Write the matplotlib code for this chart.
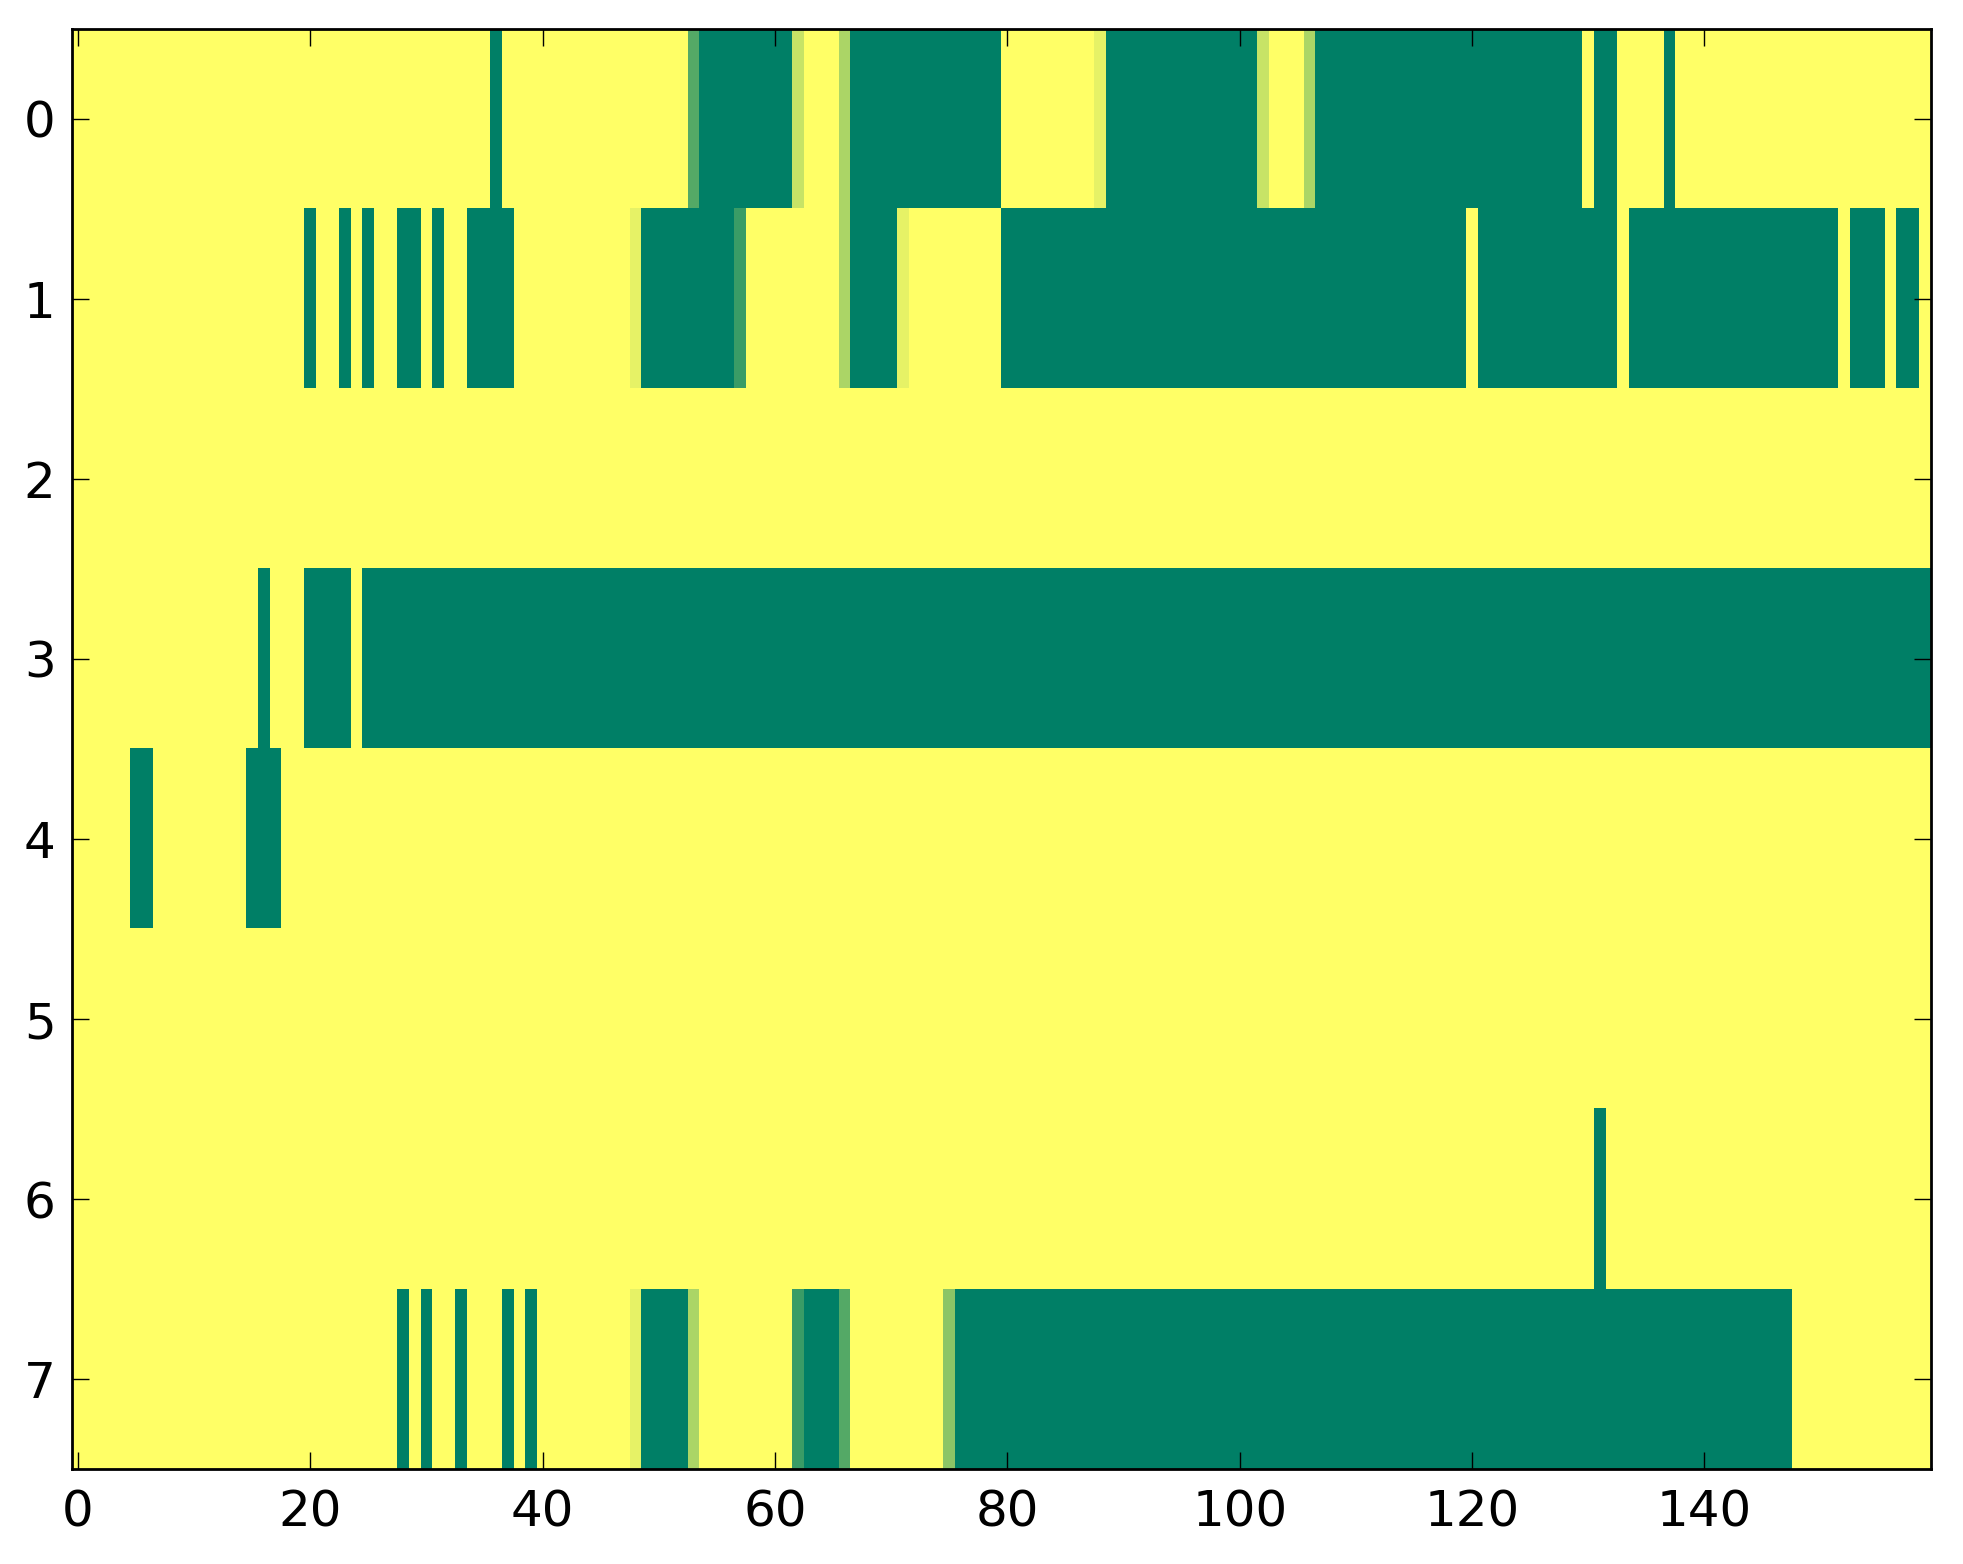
import numpy as np
import matplotlib
matplotlib.use("Agg")
import matplotlib.pyplot as plt

n_rows = 8
n_cols = 160

# runs of non-zero cells per row: (first column, last column, value)
row0 = [(36, 36, 1), (53, 53, 0.67), (54, 61, 1), (62, 62, 0.22), (66, 66, 0.33),
        (67, 79, 1), (88, 88, 0.1), (89, 101, 1), (102, 102, 0.22), (106, 106, 0.33),
        (107, 129, 1), (131, 132, 1), (137, 137, 1)]
row1 = [(20, 20, 1), (23, 23, 1), (25, 25, 1), (28, 29, 1), (31, 31, 1), (34, 37, 1),
        (48, 48, 0.1), (49, 56, 1), (57, 57, 0.77), (66, 66, 0.33), (67, 70, 1),
        (71, 71, 0.1), (80, 119, 1), (121, 132, 1), (134, 151, 1), (153, 155, 1),
        (157, 158, 1)]
row2 = []
row3 = [(16, 16, 1), (20, 23, 1), (25, 159, 1)]
row4 = [(5, 6, 1), (15, 17, 1)]
row5 = []
row6 = [(131, 131, 1)]
row7 = [(28, 28, 1), (30, 30, 1), (33, 33, 1), (37, 37, 1), (39, 39, 1),
        (48, 48, 0.1), (49, 52, 1), (53, 53, 0.33), (62, 62, 0.77), (63, 65, 1),
        (66, 66, 0.67), (75, 75, 0.45), (76, 147, 1)]
rows = [row0, row1, row2, row3, row4, row5, row6, row7]

grid = np.zeros((n_rows, n_cols))
for r, runs in enumerate(rows):
    for a, b, v in runs:
        grid[r, a:b + 1] = v

plt.rcParams['font.family'] = ['DejaVu Sans']
fig = plt.figure(figsize=(1963 / 200, 1564 / 200), dpi=200)
ax = fig.add_axes([0.0368, 0.0607, 0.9469, 0.9208])
ax.imshow(grid, cmap='summer_r', aspect='auto', interpolation='nearest', vmin=0, vmax=1)
ax.set_xticks(np.arange(0, 141, 20))
ax.set_yticks(np.arange(0, 8))
ax.tick_params(direction='in', top=True, right=True, length=6, width=0.5, labelsize=18)
ax.tick_params(axis='x', pad=7)
ax.tick_params(axis='y', pad=6)
for s in ax.spines.values():
    s.set_linewidth(1.0)

fig.savefig('out.png', dpi=200)
